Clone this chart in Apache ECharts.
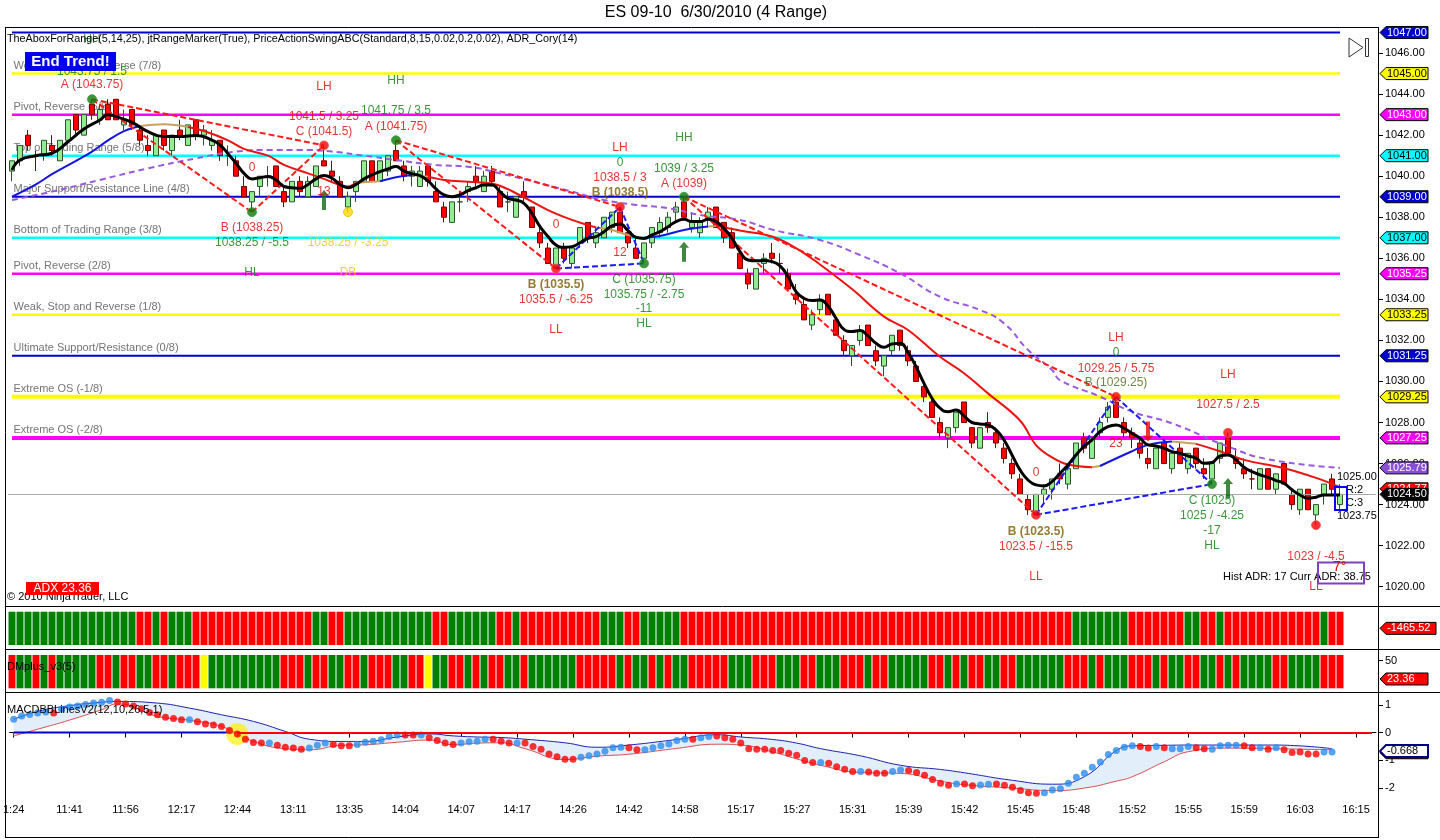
<!DOCTYPE html>
<html><head><meta charset="utf-8">
<script src="https://cdn.jsdelivr.net/npm/echarts@6.0.0/dist/echarts.min.js"></script>
<style>html,body{margin:0;padding:0;background:#fff}#c{width:1440px;height:840px}</style>
</head><body><div id="c"></div>
<script>
// ---------------- DATA ----------------
const timeLabels = ["1:24","11:41","11:56","12:17","12:44","13:11","13:35","14:04","14:07","14:17","14:26","14:42","14:58","15:17","15:27","15:31","15:39","15:42","15:45","15:48","15:52","15:55","15:59","16:03","16:15"];
const opens = [
1040.25,1040.75,1042.0,1041.0,1041.0,1041.5,1040.75,1041.75,1043.0,1042.0,
1043.5,1042.75,1043.5,1043.75,1042.5,1043.25,1042.25,1041.5,1041.0,1042.25,
1041.25,1042.25,1041.5,1042.75,1042.0,1041.5,1041.75,1041.0,1040.75,1039.5,
1038.75,1039.5,1040.0,1040.5,1039.25,1038.75,1039.75,1039.0,1039.5,1040.75,
1040.25,1039.75,1038.5,1039.25,1039.75,1040.75,1039.75,1040.25,1041.25,1040.5,
1040.0,1039.5,1040.5,1039.25,1038.5,1037.75,1038.75,1039.25,1040.0,1039.25,
1040.25,1039.25,1038.75,1038.0,1039.25,1038.5,1037.25,1036.5,1035.5,1036.5,
1035.75,1036.75,1037.75,1036.75,1037.0,1037.5,1038.25,1037.25,1036.5,1036.0,
1036.75,1037.25,1037.5,1038.25,1038.75,1037.5,1037.25,1038.0,1038.5,1037.75,
1037.25,1036.25,1035.25,1034.5,1035.75,1036.25,1035.75,1035.25,1034.25,1033.75,
1032.75,1033.5,1034.25,1033.0,1032.0,1031.25,1032.0,1032.75,1031.5,1030.75,
1031.5,1032.5,1031.5,1030.75,1029.75,1029.0,1028.0,1027.25,1027.75,1029.0,
1027.75,1026.75,1028.0,1027.5,1026.75,1026.0,1025.25,1024.25,1023.5,1024.5,
1024.75,1025.5,1025.0,1025.75,1027.25,1026.25,1027.5,1028.25,1029.0,1028.0,
1027.5,1027.0,1026.25,1025.75,1027.0,1025.75,1026.75,1025.75,1026.75,1025.75,
1025.25,1026.25,1027.25,1026.25,1025.75,1025.25,1024.75,1025.75,1024.75,1026.0,
1024.5,1023.75,1024.75,1023.5,1024.5,1025.25,1024.0];
const closes = [
1040.75,1041.5,1041.5,1041.0,1041.75,1041.25,1041.75,1042.75,1042.25,1043.0,
1043.0,1043.25,1042.75,1042.75,1042.75,1042.5,1041.75,1041.25,1042.0,1041.5,
1042.0,1042.0,1042.5,1042.0,1042.25,1041.75,1041.0,1041.0,1040.0,1039.0,
1039.25,1040.0,1040.0,1039.5,1038.75,1039.75,1039.25,1039.75,1040.5,1040.5,
1040.0,1039.0,1039.0,1039.75,1040.75,1039.75,1040.75,1041.0,1040.75,1040.0,
1040.25,1040.25,1039.75,1038.75,1038.0,1038.75,1038.75,1039.5,1039.75,1040.0,
1039.75,1038.5,1038.75,1039.0,1039.0,1037.5,1036.75,1035.75,1036.5,1036.0,
1036.5,1037.5,1037.0,1037.25,1038.0,1038.25,1037.25,1036.75,1036.0,1036.75,
1037.5,1037.75,1038.0,1038.5,1038.0,1037.75,1037.75,1038.25,1037.5,1037.0,
1036.5,1035.5,1034.75,1035.5,1036.0,1036.0,1035.75,1034.5,1034.0,1033.0,
1033.25,1034.0,1033.25,1032.25,1031.5,1031.75,1032.5,1031.75,1031.0,1031.25,
1032.25,1031.75,1031.0,1030.0,1029.25,1028.25,1027.5,1027.75,1028.5,1028.0,
1027.0,1027.75,1027.75,1027.0,1026.25,1025.5,1024.5,1023.75,1024.5,1024.75,
1025.25,1025.25,1025.75,1027.0,1026.75,1027.25,1028.0,1028.75,1028.25,1027.5,
1027.25,1026.5,1026.0,1026.75,1026.0,1026.5,1026.0,1026.5,1026.0,1025.5,
1026.0,1027.0,1026.5,1026.0,1025.5,1025.25,1025.75,1024.75,1025.5,1025.0,
1024.0,1024.75,1023.75,1024.0,1025.0,1024.75,1024.5];
const lows = [
1039.75,1040.5,1041.25,1040.25,1040.75,1041.0,1040.75,1041.75,1042.0,1042.0,
1042.75,1042.5,1042.75,1042.75,1042.25,1042.25,1041.5,1041.0,1041.0,1041.25,
1041.0,1041.75,1041.5,1041.75,1041.5,1041.25,1040.75,1040.5,1040.0,1039.0,
1038.25,1039.0,1039.5,1039.5,1038.5,1038.75,1039.0,1039.0,1039.5,1040.5,
1039.75,1039.0,1038.25,1038.75,1039.75,1039.75,1039.75,1040.0,1040.75,1039.75,
1039.5,1039.5,1039.5,1038.75,1037.75,1037.75,1038.25,1038.75,1039.5,1039.25,
1039.5,1038.5,1038.25,1038.0,1038.75,1037.5,1036.5,1035.75,1035.5,1035.75,
1035.5,1036.5,1036.75,1036.5,1037.0,1037.25,1037.25,1036.5,1036.0,1035.75,
1036.5,1037.0,1037.25,1037.75,1038.0,1037.25,1037.0,1037.5,1037.5,1036.75,
1036.5,1035.5,1034.5,1034.5,1035.25,1035.75,1035.25,1034.5,1033.75,1033.0,
1032.5,1033.25,1033.25,1032.25,1031.25,1030.75,1031.75,1031.75,1030.75,1030.25,
1031.25,1031.5,1030.75,1030.0,1029.0,1028.25,1027.25,1026.75,1027.5,1028.0,
1026.75,1026.75,1027.5,1026.75,1026.0,1025.25,1024.5,1023.5,1023.5,1024.0,
1024.25,1025.0,1024.75,1025.75,1026.5,1026.25,1027.25,1028.0,1028.25,1027.25,
1026.75,1026.25,1025.75,1025.75,1026.0,1025.5,1026.0,1025.5,1025.75,1025.25,
1025.0,1026.0,1026.5,1025.75,1025.25,1024.75,1024.75,1024.75,1024.5,1025.0,
1023.75,1023.5,1023.75,1023.0,1024.0,1024.5,1023.75];
const highs = [
1040.75,1041.5,1042.25,1041.25,1041.75,1042.0,1041.75,1042.75,1043.0,1043.0,
1043.75,1043.5,1043.75,1043.75,1043.25,1043.25,1042.5,1042.0,1042.0,1042.25,
1042.0,1042.75,1042.5,1042.75,1042.5,1042.25,1041.75,1041.5,1041.0,1040.0,
1039.25,1040.0,1040.5,1040.5,1039.5,1039.75,1040.0,1040.0,1040.5,1041.5,
1040.75,1040.0,1039.25,1039.75,1040.75,1040.75,1040.75,1041.0,1041.75,1040.75,
1040.5,1040.5,1040.5,1039.75,1038.75,1038.75,1039.25,1039.75,1040.5,1040.25,
1040.5,1039.5,1039.25,1039.0,1039.75,1038.5,1037.5,1036.75,1036.5,1036.75,
1036.5,1037.5,1037.75,1037.5,1038.0,1038.25,1038.5,1037.5,1037.0,1036.75,
1037.5,1038.0,1038.25,1038.75,1039.0,1038.25,1038.0,1038.5,1038.5,1037.75,
1037.5,1036.5,1035.5,1035.5,1036.25,1036.75,1036.25,1035.5,1034.75,1034.0,
1033.5,1034.25,1034.25,1033.25,1032.25,1031.75,1032.75,1032.75,1031.75,1031.25,
1032.25,1032.5,1031.75,1031.0,1030.0,1029.25,1028.25,1027.75,1028.5,1029.0,
1027.75,1027.75,1028.5,1027.75,1027.0,1026.25,1025.5,1024.5,1024.5,1025.0,
1025.25,1026.0,1025.75,1027.0,1027.5,1027.25,1028.25,1029.0,1029.25,1028.25,
1027.75,1027.25,1026.75,1026.75,1027.0,1026.5,1027.0,1026.5,1026.75,1026.25,
1026.0,1027.0,1027.5,1026.75,1026.25,1025.75,1025.75,1025.75,1025.5,1026.0,
1024.75,1024.75,1024.75,1024.0,1025.0,1025.5,1025.0];

// fast moving average (black): [bar, price]
const fastMA = [[0,1040.3],[1,1040.79],[3,1041.0],[5,1041.12],[7,1041.68],[9,1042.3],[11,1042.74],[12,1043.0],[13,1042.9],[15,1042.62],[17,1042.17],[19,1041.93],[21,1041.93],[23,1041.98],[25,1041.76],[26,1041.52],[27,1041.1],[28,1040.63],[29,1040.14],[30,1039.87],[31,1039.93],[32,1039.98],[33,1039.82],[34,1039.5],[35,1039.44],[36,1039.41],[37,1039.6],[38,1039.87],[39,1040.03],[40,1039.9],[41,1039.6],[42,1039.44],[43,1039.6],[44,1039.87],[45,1040.06],[46,1040.22],[47,1040.35],[48,1040.47],[49,1040.25],[50,1040.12],[51,1040.03],[52,1039.77],[53,1039.38],[54,1039.09],[55,1039.0],[56,1039.09],[57,1039.3],[58,1039.44],[59,1039.57],[60,1039.57],[61,1039.25],[62,1038.92],[63,1038.84],[64,1038.68],[65,1038.19],[66,1037.54],[67,1037.06],[68,1036.65],[69,1036.54],[70,1036.57],[71,1036.76],[72,1036.97],[73,1037.06],[74,1037.3],[75,1037.58],[76,1037.67],[77,1037.35],[78,1037.02],[79,1036.97],[80,1037.14],[81,1037.3],[82,1037.54],[83,1037.79],[84,1037.9],[85,1037.79],[86,1037.79],[87,1037.9],[88,1037.79],[89,1037.46],[90,1036.97],[91,1036.33],[92,1035.92],[93,1035.88],[94,1035.89],[95,1035.84],[96,1035.63],[97,1035.11],[98,1034.38],[99,1034.05],[100,1033.94],[101,1033.97],[102,1033.68],[103,1033.08],[104,1032.54],[105,1032.43],[106,1032.48],[107,1032.22],[108,1031.86],[109,1031.67],[110,1031.83],[111,1031.86],[112,1031.41],[113,1030.72],[114,1029.91],[115,1029.18],[116,1028.7],[117,1028.53],[118,1028.61],[119,1028.32],[120,1028.0],[121,1027.93],[122,1027.88],[123,1027.64],[124,1027.15],[125,1026.42],[126,1025.69],[127,1025.2],[128,1024.96],[129,1024.91],[130,1025.12],[131,1025.53],[132,1025.93],[133,1026.42],[134,1026.83],[135,1027.15],[136,1027.56],[137,1027.8],[138,1027.88],[139,1027.72],[140,1027.48],[141,1027.23],[142,1026.91],[143,1026.86],[144,1026.75],[145,1026.58],[146,1026.5],[147,1026.37],[148,1026.26],[149,1026.01],[150,1026.05],[151,1026.37],[152,1026.42],[153,1026.18],[154,1025.82],[155,1025.61],[156,1025.45],[157,1025.33],[158,1025.17],[159,1025.04],[160,1024.72],[161,1024.47],[162,1024.31],[163,1024.36],[164,1024.47],[165,1024.47],[166,1024.47]];
// trend moving average (blue / tan / red by slope)
const trendMA = [[0,1039.0],[3,1039.6],[5,1040.1],[8,1040.75],[10,1041.2],[12,1041.75],[14,1042.2],[16,1042.45],[19,1042.53],[22,1042.4],[24,1042.2],[27,1041.75],[29,1041.33],[32,1041.0],[34,1040.55],[37,1040.14],[39,1039.87],[42,1039.5],[43,1039.68],[46,1039.75],[48,1039.95],[50,1040.06],[52,1039.98],[54,1039.82],[57,1039.73],[60,1039.65],[63,1039.17],[67,1038.35],[70,1037.87],[73,1037.5],[75,1037.38],[77,1037.14],[79,1037.0],[81,1037.09],[84,1037.38],[87,1037.55],[88,1037.58],[91,1037.35],[95,1037.06],[98,1036.5],[101,1035.7],[105,1034.5],[109,1033.16],[112,1032.51],[116,1031.2],[119,1030.4],[122,1029.42],[126,1028.1],[128,1026.9],[130,1026.3],[132,1025.95],[135,1025.82],[136,1025.88],[140,1026.6],[142,1026.91],[145,1027.07],[148,1026.96],[151,1026.6],[154,1026.18],[159,1025.77],[163,1025.3],[166,1024.85]];
const trendPhases = [[0,16,'up'],[16,22,'flat'],[22,43,'down'],[43,46,'flat'],[46,50,'up'],[50,52,'flat'],[52,73,'down'],[73,79,'flat'],[79,87,'up'],[87,88,'flat'],[88,135,'down'],[135,136,'flat'],[136,145,'up'],[145,148,'flat'],[148,166,'down']];
// slow moving average (purple dashed)
const slowMA = [[0,1038.84],[5,1039.25],[11,1039.82],[17,1040.38],[23,1040.87],[28,1041.2],[32,1041.28],[36,1041.28],[40,1041.2],[44,1041.0],[48,1040.79],[53,1040.55],[57,1040.46],[61,1040.14],[66,1039.65],[70,1039.25],[74,1038.84],[78,1038.6],[82,1038.44],[86,1038.11],[91,1037.87],[95,1037.4],[101,1036.89],[106,1036.16],[111,1035.27],[116,1034.13],[121,1033.48],[124,1032.83],[127,1031.54],[130,1030.56],[131,1030.07],[136,1029.26],[140,1028.53],[145,1027.96],[152,1026.83],[157,1026.21],[166,1025.79]];
// Murrey-math style levels
const levelValues = [1047, 1045, 1043, 1041, 1039, 1037, 1035.25, 1033.25, 1031.25, 1029.25, 1027.25];
const levelNames = ['', 'Weak, Stop and Reverse (7/8)', 'Pivot, Reverse (6/8)', 'Top of Trading Range (5/8)', 'Major Support/Resistance Line (4/8)', 'Bottom of Trading Range (3/8)', 'Pivot, Reverse (2/8)', 'Weak, Stop and Reverse (1/8)', 'Ultimate Support/Resistance (0/8)', 'Extreme OS (-1/8)', 'Extreme OS (-2/8)'];
const lastPrice = 1024.5;
// swing legs [[bar, price],[bar, price]]
const swingDown = [[[10,1043.75],[30,1038.25]],[[10,1043.75],[39,1041.5]],[[30,1038.25],[39,1041.5]],[[48,1041.75],[68,1035.5]],[[48,1041.75],[76,1038.5]],[[84,1039],[128,1023.5]],[[84,1039],[138,1029.25]]];
const swingUp = [[[68,1035.5],[76,1038.5]],[[76,1038.5],[79,1035.75]],[[68,1035.5],[79,1035.75]],[[128,1023.5],[138,1029.25]],[[138,1029.25],[150,1025]],[[128,1023.5],[150,1025]]];
// swing points [bar, price, kind]
const swingDots = [[10,1043.75,'low'],[30,1038.25,'low'],[39,1041.5,'high'],[42,1038.25,'double'],[48,1041.75,'low'],[68,1035.5,'high'],[76,1038.5,'high'],[79,1035.75,'low'],[84,1039,'low'],[128,1023.5,'high'],[138,1029.25,'high'],[150,1025,'low'],[152,1027.5,'high'],[163,1023,'high']];
const arrows = [[39,1038.84,'up'],[84,1036.32,'up'],[152,1024.81,'up'],[142,1027.56,'down']];
// annotations [text, bar, price, kind]
const notes = [
["HH",10,1046.64,'g'],["1043.75 / 1.5",10,1045.08,'g'],["A (1043.75)",10,1044.44,'r'],
["LH",39,1044.35,'r'],["HH",48,1044.64,'g'],["1041.5 / 3.25",39,1042.88,'r'],["C (1041.5)",39,1042.15,'r'],
["1041.75 / 3.5",48,1043.18,'g'],["A (1041.75)",48,1042.4,'r'],["0",30,1040.4,'r'],["13",39,1039.23,'r'],
["B (1038.25)",30,1037.48,'r'],["1038.25 / -5.5",30,1036.75,'g'],["1038.25 / -3.25",42,1036.75,'y'],
["HL",30,1035.29,'g'],["DB",42,1035.29,'y'],
["LH",76,1041.37,'r'],["0",76,1040.64,'g'],["1038.5 / 3",76,1039.91,'r'],["B (1038.5)",76,1039.18,'b'],
["HH",84,1041.86,'g'],["1039 / 3.25",84,1040.35,'g'],["A (1039)",84,1039.62,'r'],
["0",68,1037.62,'r'],["12",76,1036.26,'r'],["B (1035.5)",68,1034.7,'b'],["1035.5 / -6.25",68,1033.97,'r'],["LL",68,1032.51,'r'],
["C (1035.75)",79,1034.94,'g'],["1035.75 / -2.75",79,1034.21,'g'],["-11",79,1033.53,'g'],["HL",79,1032.8,'g'],
["LH",138,1032.12,'r'],["0",138,1031.39,'g'],["1029.25 / 5.75",138,1030.61,'r'],["B (1029.25)",138,1029.93,'o'],["23",138,1026.96,'r'],
["0",128,1025.55,'r'],["B (1023.5)",128,1022.67,'b'],["1023.5 / -15.5",128,1021.94,'r'],["LL",128,1020.48,'r'],
["LH",152,1030.32,'r'],["1027.5 / 2.5",152,1028.86,'r'],
["C (1025)",150,1024.18,'g'],["1025 / -4.25",150,1023.45,'g'],["-17",150,1022.72,'g'],["HL",150,1021.99,'g'],
["1023 / -4.5",163,1021.45,'r'],["LL",163,1019.99,'r']];
// price axis ticks and right-edge value tags
const priceTicks = [1020,1022,1024,1026,1028,1030,1032,1034,1036,1038,1040,1042,1044,1046];
const priceTags = [1047, 1045, 1043, 1041, 1039, 1037, 1035.25, 1033.25, 1031.25, 1029.25, 1027.25, 1025.79, 1024.77, 1024.50];
// lower panels: G = green, R = red, Y = yellow
const trendBars =
"GGGGGGGGGGGGGGGGRRGRGGGRRRRRRRRRRRRRRRGGRRGGGGGGGGGGGRRGGGGGGRRGRRRRRRRRRRGGGRRGGGGG" +
"RRRRRRRRRRRRRRRRRRRRRRRRRRRRRRRRRRRRRRRRRRRRRRRRRGGGGGGGRRRRRRRGGRRGRRRRRRRRRRRRGRR";
const dmBars =
"RGGRGRGGGGGRRGRRGGRRGRRRYGGGGGGGGGRRRGRRGGRRGRRRGGRRYGGRRGRGRRGGRGGGGGGRRRRRGRGGRGRGGRRRRR" +
"GGGRRRGGGRRGGGRRRGRRGGGGGRRGRGRRGGRRGGGGGGRRRGRGGGRRRGRGGRRGGRGRGGGGRRGGGGRRR";
const trendValue = -1465.52;
const dmValue = 23.36;
const dmTicks = [50];
const macd = [
0.48,0.60,0.65,0.70,0.74,0.70,0.84,0.92,0.96,1.01,
1.06,1.09,1.15,1.10,1.03,0.96,0.86,0.72,0.64,0.55,
0.51,0.46,0.46,0.39,0.31,0.27,0.22,0.07,-0.05,-0.24,
-0.36,-0.38,-0.38,-0.46,-0.53,-0.56,-0.60,-0.56,-0.46,-0.38,
-0.43,-0.48,-0.48,-0.43,-0.35,-0.31,-0.26,-0.14,-0.09,-0.09,
-0.09,-0.09,-0.19,-0.29,-0.38,-0.43,-0.38,-0.33,-0.31,-0.24,
-0.24,-0.31,-0.38,-0.38,-0.38,-0.50,-0.60,-0.77,-0.87,-0.96,
-0.96,-0.89,-0.84,-0.77,-0.67,-0.55,-0.53,-0.55,-0.62,-0.62,
-0.55,-0.48,-0.41,-0.29,-0.24,-0.24,-0.19,-0.14,-0.12,-0.19,
-0.24,-0.38,-0.58,-0.60,-0.60,-0.65,-0.65,-0.75,-0.82,-1.01,
-1.08,-1.08,-1.11,-1.23,-1.32,-1.40,-1.40,-1.42,-1.47,-1.47,
-1.40,-1.35,-1.37,-1.44,-1.54,-1.69,-1.83,-1.90,-1.85,-1.85,
-1.92,-1.89,-1.86,-1.85,-1.90,-1.97,-2.09,-2.17,-2.19,-2.17,
-2.07,-2.02,-1.83,-1.61,-1.47,-1.25,-1.06,-0.79,-0.65,-0.53,
-0.48,-0.50,-0.56,-0.50,-0.55,-0.58,-0.58,-0.50,-0.55,-0.58,
-0.60,-0.48,-0.46,-0.46,-0.48,-0.55,-0.55,-0.60,-0.55,-0.62,
-0.72,-0.70,-0.77,-0.77,-0.70,-0.70];
const macdDir = "BBBBBRBBBBBBBRRRRRRRRRBRRRRRRRRRBRRRRBBBRRRBBBBBBRRBRRRRBBBBRRRBRRRRRRRBBBBBBRRBBBBBBRBBRRRRRRRRRRRRRBRRRRBRRRBBRRRRRRBRRBBRRRRRRBBBBBBBBBBBBRRBRBBBRRBBBBRRBRBRRRRRBB";
const bandBars = [0,3,7,11,13,18,22,26,30,34,37,41,44,48,52,55,58,61,64,69,73,77,83,88,91,95,98,101,106,111,116,119,125,130,134,138,140,144,147,152,157,161,165];
const bandUpper = [0.48,0.76,0.97,1.09,1.12,1.06,0.88,0.64,0.40,0.04,-0.24,-0.32,-0.32,-0.16,-0.05,-0.12,-0.16,-0.18,-0.24,-0.37,-0.53,-0.45,-0.25,-0.08,-0.16,-0.25,-0.38,-0.58,-0.84,-1.18,-1.33,-1.45,-1.72,-1.86,-1.59,-0.65,-0.48,-0.46,-0.45,-0.45,-0.45,-0.48,-0.58];
const bandLower = [-0.12,0.12,0.45,0.82,1.03,0.58,0.44,0.22,-0.32,-0.58,-0.62,-0.46,-0.44,-0.35,-0.27,-0.44,-0.38,-0.37,-0.58,-0.97,-0.85,-0.78,-0.57,-0.42,-0.45,-0.70,-0.95,-1.18,-1.44,-1.47,-1.75,-1.88,-2.0,-2.09,-2.0,-1.75,-1.59,-1.05,-0.69,-0.56,-0.58,-0.60,-0.62];
const macdTicks = [1,0,-1,-2];
const macdLast = -0.668;
const macdCrossBar = 28;

// ---------------- STYLE ----------------
const FONT = '"Liberation Sans", Arial, sans-serif';
const levelColors = ['#0000CD','#FFFF00','#FF00FF','#00FFFF','#0000CD','#00FFFF','#FF00FF','#FFFF00','#0000CD','#FFFF00','#FF00FF'];
const levelWidths = [2,2.5,2.5,2.5,2,2.5,2.5,2.5,2,4,4];
const phaseColor = {up:'#1515E0', flat:'#C8A060', down:'#EE1111'};
const dotColor = {low:'#0A7A0A', high:'#FF0000', double:'#FFD700'};
const noteColor = {r:'#DD0000', g:'#0A7A0A', y:'#F5C400', b:'#7A5A00', o:'#4A6A10'};
const barColor = {G:'#008000', R:'#FF0000', Y:'#FFFF00'};
const macdColor = {B:'#2A8CF0', R:'#FF0000'};
const tagStyle = [
 ['#0000CD','#fff'],['#FFFF00','#000'],['#FF00FF','#fff'],['#00FFFF','#000'],['#0000CD','#fff'],['#00FFFF','#000'],
 ['#FF00FF','#fff'],['#FFFF00','#000'],['#0000CD','#fff'],['#FFFF00','#000'],['#FF00FF','#fff'],['#8A4FD8','#fff'],
 ['#FF0000','#fff'],['#000000','#fff']];

// ---------------- BUILD ----------------
const NBARS = opens.length;
const NCAT = 171;
const categories = [];
for (let i = 0; i < NCAT; i++) categories.push(i % 7 === 0 && timeLabels[i/7] ? timeLabels[i/7] : String(i));
const every7 = (i) => i % 7 === 0;

const chart = echarts.init(document.getElementById('c'), null, {width:1440, height:840});
const series = [];

// level lines
levelValues.forEach((v, k) => {
  series.push({type:'line', xAxisIndex:0, yAxisIndex:0, data:[[0,v],[NBARS-1,v]], symbol:'none', silent:true, z:1,
    lineStyle:{color:levelColors[k], width:levelWidths[k]}});
});
// level labels
series.push({type:'scatter', xAxisIndex:0, yAxisIndex:0, symbolSize:1, itemStyle:{color:'rgba(0,0,0,0)'}, silent:true, z:3,
  data: levelValues.map((v,k)=>({value:[0,v], name:levelNames[k]})),
  label:{show:true, position:'right', distance:1, offset:[0,-8], formatter:'{b}', color:'#505050', fontSize:11, fontFamily:FONT}});
// candles
series.push({type:'candlestick', xAxisIndex:0, yAxisIndex:0, barWidth:6, z:4,
  data: opens.map((o,i)=>[o, closes[i], lows[i], highs[i]]),
  itemStyle:{color:'#90EE90', color0:'#FF0000', borderColor:'#2F4F2F', borderColor0:'#7A0000', borderWidth:1},
  markLine:{symbol:'none', silent:true, label:{show:false}, lineStyle:{color:'#A8A8A8', width:1, type:'solid'}, data:[{yAxis:lastPrice}]}});
// slow MA
series.push({type:'line', xAxisIndex:0, yAxisIndex:0, data:slowMA, symbol:'none', smooth:true, z:5, silent:true,
  lineStyle:{color:'#9B59E0', width:2, type:[6,4]}});
// trend MA split by phase
trendPhases.forEach(([a,b,ph]) => {
  series.push({type:'line', xAxisIndex:0, yAxisIndex:0, data: trendMA.filter(p=>p[0]>=a && p[0]<=b), symbol:'none', smooth:0.4, z:5, silent:true,
    lineStyle:{color:phaseColor[ph], width:2}});
});
// swing legs
swingDown.forEach(seg => series.push({type:'line', xAxisIndex:0, yAxisIndex:0, data:seg, symbol:'none', z:6, silent:true, lineStyle:{color:'#FF1A1A', width:2, type:[6,3]}}));
swingUp.forEach(seg => series.push({type:'line', xAxisIndex:0, yAxisIndex:0, data:seg, symbol:'none', z:6, silent:true, lineStyle:{color:'#1A1AFF', width:2, type:[6,3]}}));
// fast MA
series.push({type:'line', xAxisIndex:0, yAxisIndex:0, data:fastMA, symbol:'none', smooth:true, z:7, silent:true, lineStyle:{color:'#000', width:3}});
// swing dots
series.push({type:'scatter', xAxisIndex:0, yAxisIndex:0, symbolSize:9, z:8, silent:true,
  data: swingDots.map(d=>({value:[d[0],d[1]], itemStyle:{color:dotColor[d[2]], borderColor:d[2]==='low'?'#3A9A3A':(d[2]==='high'?'#E06060':'#EEC000'), borderWidth:1}}))});
// arrows
const upArrow = 'path://M5,0 L10,6 L7,6 L7,20 L3,20 L3,6 L0,6 Z';
const downArrow = 'path://M3,0 L7,0 L7,14 L10,14 L5,20 L0,14 L3,14 Z';
series.push({type:'scatter', xAxisIndex:0, yAxisIndex:0, z:8, silent:true, symbolSize:[10,20],
  data: arrows.map(a=>({value:[a[0],a[1]], symbol:a[2]==='up'?upArrow:downArrow, itemStyle:{color:a[2]==='up'?'#0F6A0F':'#EE0000'}}))});
// annotations
series.push({type:'scatter', xAxisIndex:0, yAxisIndex:0, symbolSize:1, itemStyle:{color:'rgba(0,0,0,0)'}, z:9, silent:true,
  data: notes.map(n=>({value:[n[1],n[2]], name:n[0], label:{color:noteColor[n[3]], fontWeight:(n[3]==='b')?'bold':'normal'}})),
  label:{show:true, position:'inside', formatter:'{b}', fontSize:12, fontFamily:FONT}});

// heat bars
series.push({type:'bar', xAxisIndex:1, yAxisIndex:1, barWidth:7, silent:true,
  data: trendBars.split('').map(c=>({value:1, itemStyle:{color:barColor[c]}}))});
series.push({type:'bar', xAxisIndex:2, yAxisIndex:2, barWidth:7, silent:true,
  data: dmBars.split('').map(c=>({value:1, itemStyle:{color:barColor[c]}}))});

// MACD band
series.push({type:'line', xAxisIndex:3, yAxisIndex:4, stack:'band', stackStrategy:'all', symbol:'none', smooth:true, silent:true, z:2,
  data: bandBars.map((b,k)=>[b, bandLower[k]]), lineStyle:{color:'#D95050', width:1}});
series.push({type:'line', xAxisIndex:3, yAxisIndex:4, stack:'band', stackStrategy:'all', symbol:'none', smooth:true, silent:true, z:1,
  data: bandBars.map((b,k)=>[b, bandUpper[k]-bandLower[k]]), lineStyle:{width:0, opacity:0}, areaStyle:{color:'#E2EEF9', opacity:1}});
series.push({type:'line', xAxisIndex:3, yAxisIndex:4, symbol:'none', smooth:true, silent:true, z:2,
  data: bandBars.map((b,k)=>[b, bandUpper[k]]), lineStyle:{color:'#2020B0', width:1}});
// zero line
series.push({type:'line', xAxisIndex:3, yAxisIndex:4, symbol:'none', silent:true, z:2,
  data:[[0,0],[macdCrossBar,0]], lineStyle:{color:'#0000CD', width:2},
  markLine:{symbol:'none', silent:true, label:{show:false}, lineStyle:{color:'#FF0000', width:2, type:'solid'},
    data:[[{coord:[macdCrossBar,0]},{coord:[NCAT-1,0]}]]}});
// cross highlight
series.push({type:'scatter', xAxisIndex:3, yAxisIndex:4, symbolSize:22, silent:true, z:3,
  data:[[macdCrossBar, macd[macdCrossBar]]], itemStyle:{color:'rgba(255,240,0,0.85)'}});
// MACD dots
series.push({type:'scatter', xAxisIndex:3, yAxisIndex:4, symbolSize:7, silent:true, z:4,
  data: macd.map((v,i)=>({value:[i,v], itemStyle:{color:macdColor[macdDir[i]]}}))});

// value tags on the right edge
function tagSeries(xIdx, yIdx, items) {
  return {type:'custom', xAxisIndex:xIdx, yAxisIndex:yIdx, z:60, silent:true, clip:false,
    data: items.map(t=>[0, t.v]),
    renderItem(params, api) {
      const t = items[params.dataIndex];
      const cs = params.coordSys;
      const x0 = cs.x + cs.width + 4;
      const yc = api.coord([0, api.value(1)])[1];
      const w = t.w || 48, h = 12;
      return {type:'group', children:[
        {type:'polygon', shape:{points:[[x0,yc],[x0+6,yc-h/2],[x0+w,yc-h/2],[x0+w,yc+h/2],[x0+6,yc+h/2]]},
          style:{fill:t.bg, stroke:t.border||'#000', lineWidth:t.bw||1}},
        {type:'text', x:x0+7, y:yc, style:{text:t.text, fill:t.fg, font:'11px '+FONT, align:'left', verticalAlign:'middle'}}
      ]};
    }};
}
series.push(tagSeries(0, 0, priceTags.map((v,k)=>({v, text:v.toFixed(2), bg:tagStyle[k][0], fg:tagStyle[k][1]}))));
series.push(tagSeries(1, 1, [{v:0.5, text:trendValue.toFixed(2), bg:'#FF0000', fg:'#fff', w:56}]));
series.push(tagSeries(2, 3, [{v:dmValue, text:dmValue.toFixed(2), bg:'#FF0000', fg:'#fff', w:48}]));
series.push(tagSeries(3, 4, [{v:macdLast-0.06, text:'', bg:'#6A0000', fg:'#fff', w:48},
                              {v:macdLast, text:macdLast.toFixed(3), bg:'#FFFFFF', fg:'#000', border:'#000080', bw:2, w:48}]));

// graphics (frame, titles, overlays)
const G = [];
function gl(x1,y1,x2,y2,color,w){G.push({type:'line', z:20, silent:true, shape:{x1,y1,x2,y2}, style:{stroke:color||'#000', lineWidth:w||1}});}
function gt(x,y,t,o){o=o||{}; G.push({type:'text', z:o.z||30, silent:true, x, y, style:{text:t, fill:o.fill||'#000', font:(o.font||'11px ')+FONT, align:o.align||'left', verticalAlign:'middle'}});}
gl(5,27.5,1378,27.5); gl(5.5,27,5.5,838); gl(1378.5,27,1378.5,838); gl(5,837.5,1378,837.5);
gl(5,606.5,1440,606.5); gl(5,649.5,1440,649.5); gl(5,692.5,1440,692.5);
gt(716,13,'ES 09-10  6/30/2010 (4 Range)',{font:'16px ',align:'center'});
gt(7,39,'TheAboxForRange(5,14,25), jtRangeMarker(True), PriceActionSwingABC(Standard,8,15,0.02,0.2,0.02), ADR_Cory(14)',{font:'10.8px '});
G.push({type:'rect', z:100, silent:true, shape:{x:25,y:52,width:91,height:19}, style:{fill:'#0000EE'}});
gt(70.5,61.5,'End Trend!',{font:'bold 15px ',fill:'#fff',align:'center',z:101});
G.push({type:'polygon', z:30, silent:true, shape:{points:[[1349,38],[1363,47.5],[1349,57]]}, style:{fill:'#fff', stroke:'#333', lineWidth:1}});
G.push({type:'rect', z:30, silent:true, shape:{x:1365.5,y:38.5,width:3,height:18}, style:{fill:'#fff', stroke:'#333', lineWidth:1}});
gt(7,597,'© 2010 NinjaTrader, LLC');
G.push({type:'rect', z:40, silent:true, shape:{x:26,y:582,width:73,height:13}, style:{fill:'#FF0000'}});
gt(62.5,588.5,'ADX 23.36',{fill:'#fff',align:'center',font:'12px ',z:41});
gt(7,667,'DMplus_v3(5)');
gt(7,710,'MACDBBLinesV2(12,10,26,5,1)');
gt(1223,577,'Hist ADR: 17 Curr ADR: 38.75');
G.push({type:'rect', z:40, silent:true, shape:{x:1318,y:562.5,width:46,height:21}, style:{fill:'none', stroke:'#8040C0', lineWidth:2}});
gt(1333,567,'7°',{fill:'#DD0000',font:'14px ',z:41});
G.push({type:'rect', z:40, silent:true, shape:{x:1335,y:487,width:12,height:23}, style:{fill:'none', stroke:'#0000FF', lineWidth:2}});
gt(1337,477,'1025.00'); gt(1346,490,'R:2'); gt(1346,503,'C:3'); gt(1337,516,'1023.75');

const axisLabelStyle = {color:'#000', fontSize:11, fontFamily:FONT, margin:7};
const option = {
  animation:false,
  backgroundColor:'#fff',
  textStyle:{fontFamily:FONT},
  grid:[
    {left:8, width:1368, top:27, height:579},
    {left:8, width:1368, top:606, height:43},
    {left:8, width:1368, top:649, height:43},
    {left:8, width:1368, top:692, height:104}
  ],
  xAxis:[0,1,2,3].map(g=>({
    type:'category', gridIndex:g, data:categories, boundaryGap:true, show:g===3,
    axisLine:{show:g===3, lineStyle:{color:'#000', width:1}},
    axisTick:{show:g===3, interval:every7, alignWithLabel:true, length:5, lineStyle:{color:'#000'}},
    axisLabel:{show:g===3, interval:every7, color:'#000', fontSize:11, fontFamily:FONT, margin:8},
    splitLine:{show:false}
  })),
  yAxis:[
    {gridIndex:0, type:'value', min:1019.06, max:1047.27, position:'right', offset:2, axisLine:{show:false}, splitLine:{show:false},
      axisTick:{show:true, customValues:priceTicks, length:5, lineStyle:{color:'#000'}},
      axisLabel:Object.assign({show:true, customValues:priceTicks, formatter:(v)=>Number(v).toFixed(2)}, axisLabelStyle)},
    {gridIndex:1, type:'value', min:-0.12, max:1.171, show:false},
    {gridIndex:2, type:'value', min:-0.111, max:1.18, show:false},
    {gridIndex:2, type:'value', min:4.44, max:67.0, position:'right', offset:2, axisLine:{show:false}, splitLine:{show:false},
      axisTick:{show:true, customValues:dmTicks, length:5, lineStyle:{color:'#000'}},
      axisLabel:Object.assign({show:true, customValues:dmTicks}, axisLabelStyle)},
    {gridIndex:3, type:'value', min:-2.285, max:1.46, position:'right', offset:2, axisLine:{show:false}, splitLine:{show:false},
      axisTick:{show:true, customValues:macdTicks, length:5, lineStyle:{color:'#000'}},
      axisLabel:Object.assign({show:true, customValues:macdTicks}, axisLabelStyle)}
  ],
  series,
  graphic:{elements:G}
};
chart.setOption(option);
</script>
</body></html>
